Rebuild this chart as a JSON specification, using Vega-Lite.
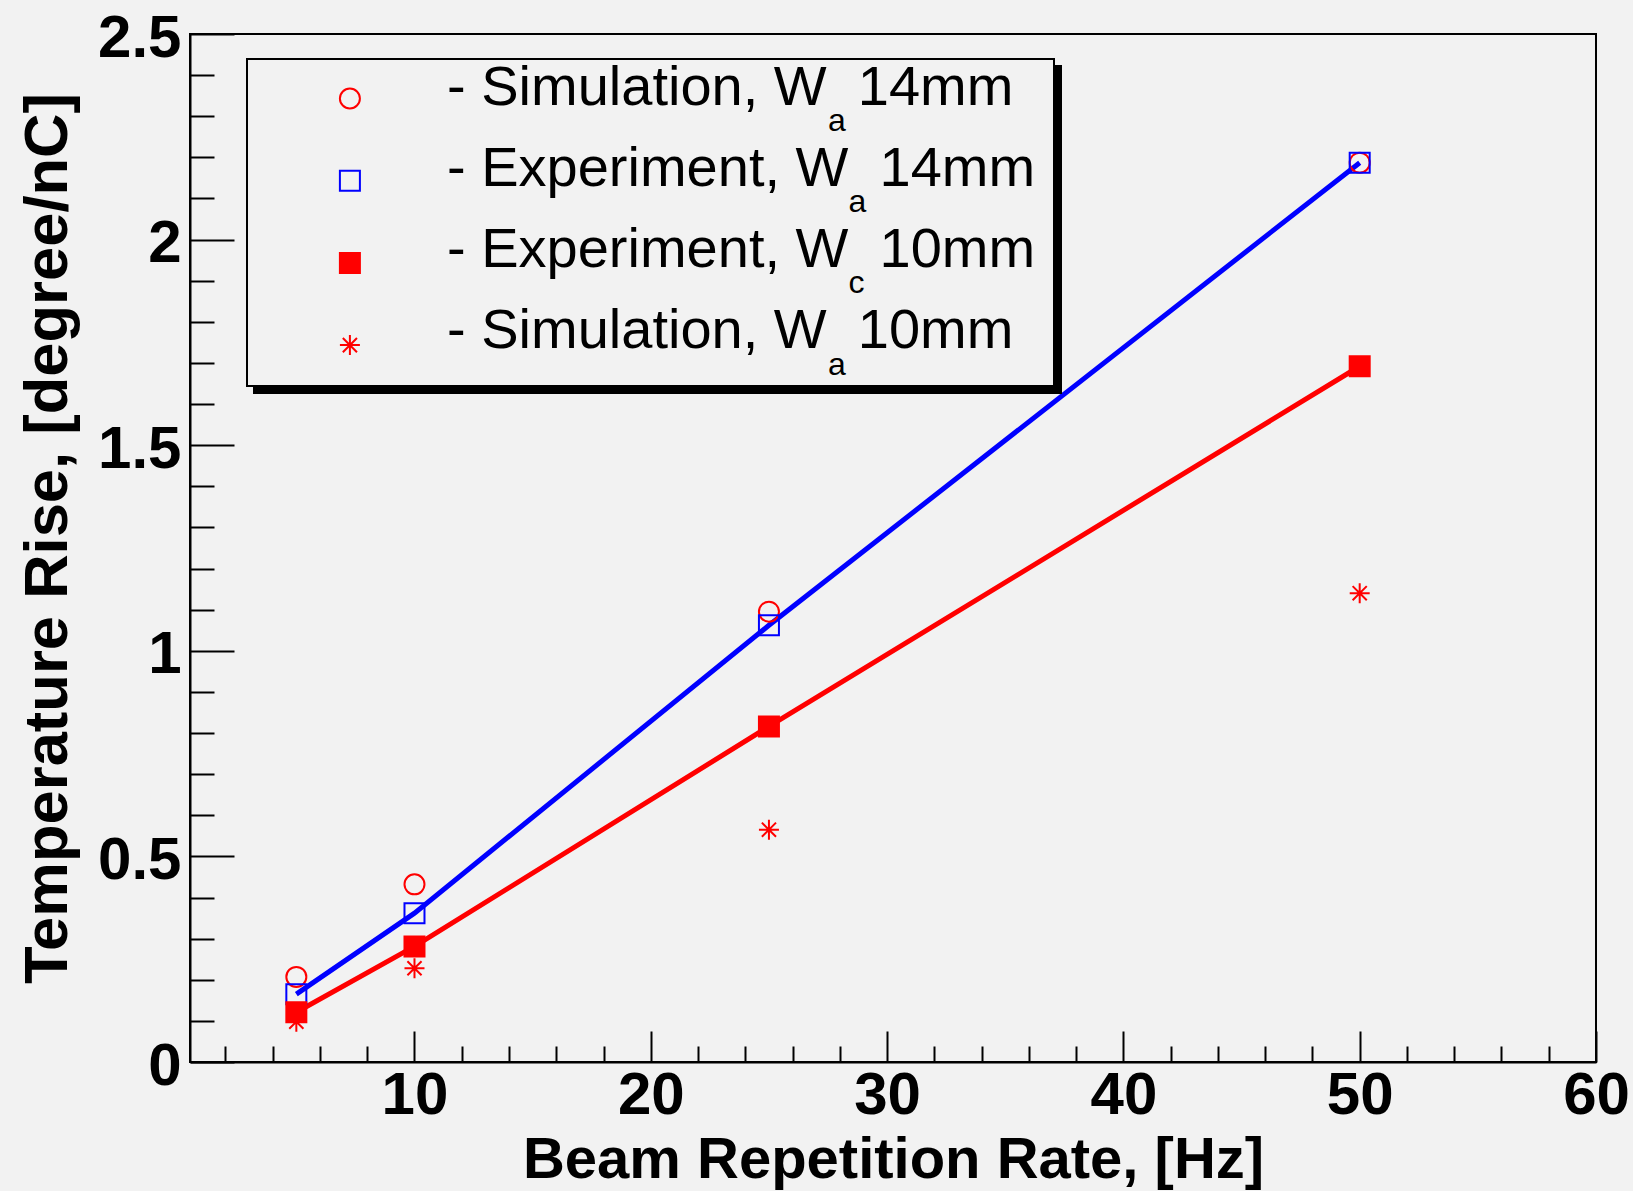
{
  "$schema": "https://vega.github.io/schema/vega-lite/v6.json",
  "width": 1406,
  "height": 1028,
  "autosize": {"type": "none"},
  "padding": {"left": 190, "top": 34, "right": 37, "bottom": 129},
  "background": "#f2f2f2",
  "config": {
    "view": {"stroke": "#000000", "strokeWidth": 2},
    "legend": {"strokeWidth": 2},
    "axis": {"grid": false, "domainColor": "#000000", "domainWidth": 2, "tickColor": "#000000", "tickWidth": 2,
      "labelFont": "Liberation Sans", "labelFontWeight": "bold", "labelFontSize": 60, "labelColor": "#000000",
      "titleFont": "Liberation Sans", "titleFontWeight": "bold", "titleColor": "#000000",
      "labelFlush": false, "labelOverlap": false, "labelBound": false}
  },
  "data": {"values": [
    {"series": "Simulation, Wa 14mm", "rate": 5, "rise": 0.207},
    {"series": "Simulation, Wa 14mm", "rate": 10, "rise": 0.432},
    {"series": "Simulation, Wa 14mm", "rate": 25, "rise": 1.095},
    {"series": "Simulation, Wa 14mm", "rate": 50, "rise": 2.187},
    {"series": "Experiment, Wa 14mm", "rate": 5, "rise": 0.165},
    {"series": "Experiment, Wa 14mm", "rate": 10, "rise": 0.362},
    {"series": "Experiment, Wa 14mm", "rate": 25, "rise": 1.062},
    {"series": "Experiment, Wa 14mm", "rate": 50, "rise": 2.187},
    {"series": "Experiment, Wc 10mm", "rate": 5, "rise": 0.121},
    {"series": "Experiment, Wc 10mm", "rate": 10, "rise": 0.281},
    {"series": "Experiment, Wc 10mm", "rate": 25, "rise": 0.816},
    {"series": "Experiment, Wc 10mm", "rate": 50, "rise": 1.692},
    {"series": "Simulation, Wa 10mm", "rate": 5, "rise": 0.098},
    {"series": "Simulation, Wa 10mm", "rate": 10, "rise": 0.228},
    {"series": "Simulation, Wa 10mm", "rate": 25, "rise": 0.565},
    {"series": "Simulation, Wa 10mm", "rate": 50, "rise": 1.140}
  ]},
  "encoding": {
    "x": {"field": "rate", "type": "quantitative",
      "scale": {"domain": [0.5, 60], "nice": false, "zero": false},
      "axis": {"title": "Beam Repetition Rate, [Hz]", "titleFontSize": 58, "titlePadding": -9,
        "values": [2,4,6,8,10,12,14,16,18,20,22,24,26,28,30,32,34,36,38,40,42,44,46,48,50,52,54,56,58,60],
        "tickSize": {"condition": {"test": "datum.value % 10 === 0", "value": -31}, "value": -16},
        "labelExpr": "datum.value % 10 === 0 ? datum.label : ''",
        "labelPadding": 35}},
    "y": {"field": "rise", "type": "quantitative",
      "scale": {"domain": [0, 2.5], "nice": false},
      "axis": {"title": "Temperature Rise, [degree/nC]", "titleFontSize": 61.5, "titlePadding": 18, "titleY": 504,
        "values": [0,0.1,0.2,0.3,0.4,0.5,0.6,0.7,0.8,0.9,1,1.1,1.2,1.3,1.4,1.5,1.6,1.7,1.8,1.9,2,2.1,2.2,2.3,2.4,2.5],
        "tickSize": {"condition": {"test": "abs(datum.value * 2 - round(datum.value * 2)) < 0.001", "value": -44}, "value": -24},
        "labelExpr": "abs(datum.value * 2 - round(datum.value * 2)) < 0.001 ? format(datum.value, '~g') : ''",
        "labelPadding": 53, "labelOffset": 4}}
  },
  "layer": [
    {
      "transform": [{"filter": {"field": "series", "oneOf": ["Experiment, Wa 14mm", "Experiment, Wc 10mm"]}}],
      "mark": {"type": "line", "strokeWidth": 5},
      "encoding": {
        "detail": {"field": "series", "type": "nominal"},
        "stroke": {"condition": {"test": "datum.series === 'Experiment, Wa 14mm'", "value": "#0000ff"}, "value": "#ff0000"}
      }
    },
    {
      "mark": {"type": "point", "filled": true, "size": 400, "strokeWidth": 2, "opacity": 1},
      "encoding": {
        "shape": {"field": "series", "type": "nominal",
          "scale": {"domain": ["Simulation, Wa 14mm", "Experiment, Wa 14mm", "Experiment, Wc 10mm", "Simulation, Wa 10mm"],
            "range": ["circle", "square", "square", "M-1,0H1M0,-1V1M-0.7071,-0.7071L0.7071,0.7071M-0.7071,0.7071L0.7071,-0.7071"]},
          "legend": {"orient": "none", "legendX": 57, "legendY": 25, "title": null, "padding": 12,
            "fillColor": "#f2f2f2", "strokeColor": "#000000",
            "symbolOffset": 63.4, "labelOffset": 71, "symbolSize": 400, "symbolStrokeWidth": 2,
            "labelFont": "Liberation Sans", "labelFontSize": 55, "labelColor": "#000000", "labelOpacity": 0, "labelLimit": 3000,
            "rowPadding": 26.2, "zindex": 2,
            "labelExpr": "datum.value === 'Simulation, Wa 14mm' ? '- Simulation, W\u00a0\u00a0\u00a014mm' : datum.value === 'Experiment, Wa 14mm' ? '- Experiment, W\u00a0\u00a0\u00a014mm' : datum.value === 'Experiment, Wc 10mm' ? '- Experiment, W\u00a0\u00a0\u00a010mm' : '- Simulation, W\u00a0\u00a0\u00a010mm'"}},
        "fill": {"field": "series", "type": "nominal",
          "scale": {"domain": ["Simulation, Wa 14mm", "Experiment, Wa 14mm", "Experiment, Wc 10mm", "Simulation, Wa 10mm"],
            "range": ["transparent", "transparent", "#ff0000", "transparent"]}},
        "stroke": {"field": "series", "type": "nominal",
          "scale": {"domain": ["Simulation, Wa 14mm", "Experiment, Wa 14mm", "Experiment, Wc 10mm", "Simulation, Wa 10mm"],
            "range": ["#ff0000", "#0000ff", "#ff0000", "#ff0000"]}}
      }
    },
    {
      "mark": {"type": "point", "size": 1, "opacity": 0},
      "encoding": {
        "opacity": {"field": "series", "type": "ordinal",
          "scale": {"domain": ["Simulation, Wa 14mm", "Experiment, Wa 14mm", "Experiment, Wc 10mm", "Simulation, Wa 10mm", "~sub"],
            "range": [0, 0, 0, 0, 0]},
          "legend": {"orient": "none", "legendX": 606, "legendY": 71, "title": null, "padding": 0,
            "values": ["Simulation, Wa 14mm", "Experiment, Wa 14mm", "Experiment, Wc 10mm", "Simulation, Wa 10mm"],
            "symbolSize": 1, "symbolOpacity": 0, "labelOffset": 0,
            "labelFont": "Liberation Sans", "labelFontSize": 32, "labelColor": "#000000", "labelLimit": 3000,
            "rowPadding": 49.2, "zindex": 4,
            "labelExpr": "datum.value === 'Experiment, Wa 14mm' ? '\u2060\u00a0\u00a0\u200aa' : datum.value === 'Experiment, Wc 10mm' ? '\u2060\u00a0\u00a0\u200ac' : 'a'"}},
        "size": {"field": "series", "type": "ordinal",
          "scale": {"domain": ["Simulation, Wa 14mm", "Experiment, Wa 14mm", "Experiment, Wc 10mm", "Simulation, Wa 10mm", "~text"],
            "range": [1, 1, 1, 1, 1]},
          "legend": {"orient": "none", "legendX": 201, "legendY": 25.5, "title": null, "padding": 0,
            "values": ["Simulation, Wa 14mm", "Experiment, Wa 14mm", "Experiment, Wc 10mm", "Simulation, Wa 10mm"],
            "symbolSize": 1, "symbolOpacity": 0, "labelOffset": 0,
            "labelFont": "Liberation Sans", "labelFontSize": 56, "labelColor": "#000000", "labelLimit": 3000,
            "rowPadding": 25.2, "zindex": 3,
            "labelExpr": "datum.value === 'Simulation, Wa 14mm' ? '- Simulation, W\u00a0\u00a014mm' : datum.value === 'Experiment, Wa 14mm' ? '- Experiment, W\u00a0\u00a014mm' : datum.value === 'Experiment, Wc 10mm' ? '- Experiment, W\u00a0\u00a010mm' : '- Simulation, W\u00a0\u00a010mm'"}},
        "strokeWidth": {"field": "series", "type": "ordinal",
          "scale": {"domain": ["Simulation, Wa 14mm", "Experiment, Wa 14mm", "Experiment, Wc 10mm", "Simulation, Wa 10mm", "~shadow"],
            "range": [2, 2, 2, 2, 2]},
          "legend": {"orient": "none", "legendX": 64, "legendY": 32, "title": null, "padding": 12,
            "values": ["Simulation, Wa 14mm", "Experiment, Wa 14mm", "Experiment, Wc 10mm", "Simulation, Wa 10mm"],
            "fillColor": "#000000", "strokeColor": "#000000",
            "symbolOffset": 63.4, "labelOffset": 71, "symbolSize": 400, "symbolFillColor": "#000000", "symbolStrokeColor": "#000000",
            "labelFont": "Liberation Sans", "labelFontSize": 55, "labelColor": "#000000", "labelLimit": 3000,
            "rowPadding": 26.2, "zindex": 1,
            "labelExpr": "datum.value === 'Simulation, Wa 14mm' ? '- Simulation, W\u00a0\u00a0\u00a014mm' : datum.value === 'Experiment, Wa 14mm' ? '- Experiment, W\u00a0\u00a0\u00a014mm' : datum.value === 'Experiment, Wc 10mm' ? '- Experiment, W\u00a0\u00a0\u00a010mm' : '- Simulation, W\u00a0\u00a0\u00a010mm'"}}
      }
    }
  ]
}
